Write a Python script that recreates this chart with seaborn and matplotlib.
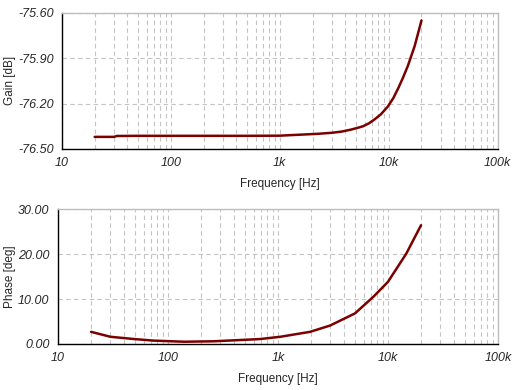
import numpy as np
import pandas as pd
import matplotlib
matplotlib.use("Agg")
import matplotlib.pyplot as plt
import seaborn as sns
from matplotlib.ticker import FixedLocator, FuncFormatter, MultipleLocator, LogLocator, NullFormatter

# values
gain_freq = [20, 30, 32, 50, 100, 200, 500, 1000, 1300, 2200, 3000, 3700, 4500, 5200,
             5800, 6600, 7400, 8500, 9800, 11000, 12200, 13500, 15000, 17300, 20000]
gain_db = [-76.42, -76.42, -76.414, -76.413, -76.413, -76.413, -76.413, -76.412, -76.408,
           -76.40, -76.393, -76.385, -76.372, -76.36, -76.35, -76.33, -76.305, -76.27,
           -76.22, -76.165, -76.10, -76.03, -75.95, -75.82, -75.65]

phase_freq = [20, 30, 49, 74, 140, 260, 520, 690, 1050, 1960, 2980, 5020, 7380, 10000,
              14700, 20000]
phase_deg = [2.7, 1.6, 1.1, 0.75, 0.5, 0.6, 0.95, 1.1, 1.6, 2.7, 4.1, 6.8, 10.5, 13.8,
             20.1, 26.4]

x_ticks = [10, 100, 1000, 10000, 100000]
x_labels = ["10", "100", "1k", "10k", "100k"]
gain_ticks = [-76.50, -76.20, -75.90, -75.60]
phase_ticks = [0, 10, 20, 30]

gain_df = pd.DataFrame({"freq": gain_freq, "gain": gain_db})
phase_df = pd.DataFrame({"freq": phase_freq, "phase": phase_deg})

sns.set_style("white")
plt.rcParams["font.family"] = ["Liberation Sans", "DejaVu Sans"]
plt.rcParams["font.size"] = 8.5

line_color = "#7b0000"
grid_color = "#c4c4c4"

fig = plt.figure(figsize=(5.2, 3.9), dpi=100)
ax1 = fig.add_axes([0.119, 0.618, 0.838, 0.349])
ax2 = fig.add_axes([0.1115, 0.118, 0.846, 0.346])


def style_axis(ax, yticks, ylim, ylabel, minor_step, label_x):
    ax.set_xscale("log")
    ax.set_xlim(10, 100000)
    ax.set_ylim(*ylim)
    ax.xaxis.set_major_locator(FixedLocator(x_ticks))
    ax.xaxis.set_major_formatter(FuncFormatter(lambda v, p: x_labels[x_ticks.index(round(v))] if round(v) in x_ticks else ""))
    ax.xaxis.set_minor_locator(LogLocator(base=10, subs=np.arange(2, 10)))
    ax.xaxis.set_minor_formatter(NullFormatter())
    ax.yaxis.set_major_locator(FixedLocator(yticks))
    ax.yaxis.set_minor_locator(MultipleLocator(minor_step))
    ax.yaxis.set_major_formatter(FuncFormatter(lambda v, p: f"{v:.2f}"))
    ax.grid(True, which="major", axis="y", color=grid_color, linestyle=(0, (4, 3)), linewidth=0.8)
    ax.grid(True, which="both", axis="x", color=grid_color, linestyle=(0, (4, 3)), linewidth=0.8)
    for side in ["top", "right"]:
        ax.spines[side].set_color("#bdbdbd")
        ax.spines[side].set_linewidth(1)
    for side in ["left", "bottom"]:
        ax.spines[side].set_color("black")
        ax.spines[side].set_linewidth(1)
    ax.tick_params(which="major", direction="out", length=4, width=0.8, color="black", pad=2)
    ax.tick_params(axis="x", which="minor", direction="in", length=3, width=0.6, color="black")
    ax.tick_params(axis="y", which="minor", direction="out", length=2.5, width=0.6, color="black")
    for lab in ax.get_xticklabels() + ax.get_yticklabels():
        lab.set_fontstyle("italic")
        lab.set_fontsize(9)
    ax.set_xlabel("Frequency [Hz]", fontsize=8.5, labelpad=6)
    ax.set_ylabel(ylabel, fontsize=8.5)
    ax.yaxis.set_label_coords(label_x, 0.5)


sns.lineplot(data=gain_df, x="freq", y="gain", ax=ax1, color=line_color, linewidth=1.8)
style_axis(ax1, gain_ticks, (-76.50, -75.60), "Gain [dB]", 0.06, -0.105)

sns.lineplot(data=phase_df, x="freq", y="phase", ax=ax2, color=line_color, linewidth=1.8)
style_axis(ax2, phase_ticks, (0, 30), "Phase [deg]", 2, -0.095)

fig.savefig("out.png", dpi=100, facecolor="white")
